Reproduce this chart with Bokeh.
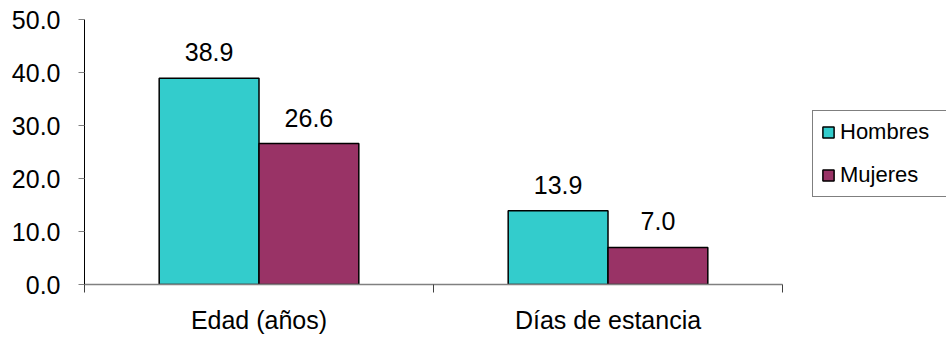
from bokeh.plotting import figure
from bokeh.models import (ColumnDataSource, Range1d, LinearAxis,
                          FixedTicker, NumeralTickFormatter, Legend, LegendItem)
from bokeh.transform import dodge
from bokeh.core.properties import value
from bokeh.embed import file_html
from bokeh.resources import INLINE

categories = ["Edad (años)", "Días de estancia"]
series_names = ["Hombres", "Mujeres"]
hombres = [38.9, 13.9]
mujeres = [26.6, 7.0]
y_ticks = [0, 10, 20, 30, 40, 50]

FONT = "Liberation Sans"
C_H = "#33CCCC"
C_M = "#993366"
BAR_W = 0.286

# layout (pixels)
W, H = 946, 337
LEFT, TOP, BOTTOM = 84, 19, 53
AXIS_W = 698                      # width of the category axis
FRAME_W = W - LEFT                # frame runs to the right edge (legend lives inside)

n = len(categories)
centers = [i + 0.5 for i in range(n)]
bounds = list(range(n + 1))
x_end = n * FRAME_W / AXIS_W

src = ColumnDataSource(dict(
    pos=centers,
    hombres=hombres,
    mujeres=mujeres,
    hl=[f"{v:.1f}" for v in hombres],
    ml=[f"{v:.1f}" for v in mujeres],
))

p = figure(x_range=Range1d(0, x_end), y_range=Range1d(0, 50), width=W, height=H,
           output_backend="svg", toolbar_location=None,
           x_axis_location=None, y_axis_location=None,
           min_border_left=LEFT, min_border_right=0, min_border_top=TOP,
           min_border_bottom=BOTTOM)
p.grid.visible = False
p.outline_line_color = None
p.background_fill_color = "white"
p.border_fill_color = "white"

r1 = p.vbar(x=dodge("pos", -BAR_W / 2), top="hombres", width=BAR_W,
            source=src, fill_color=C_H, line_color="black", line_width=1.5)
r2 = p.vbar(x=dodge("pos", BAR_W / 2), top="mujeres", width=BAR_W,
            source=src, fill_color=C_M, line_color="black", line_width=1.5)

for col, lab, off in (("hombres", "hl", -BAR_W / 2), ("mujeres", "ml", BAR_W / 2)):
    p.text(x=dodge("pos", off), y=col, text=lab, source=src,
           text_align="center", text_baseline="alphabetic", y_offset=-26,
           text_font=value(FONT), text_font_size="25px", text_color="black")

# y axis
yaxis = LinearAxis(ticker=FixedTicker(ticks=y_ticks),
                   formatter=NumeralTickFormatter(format="0.0"))
yaxis.major_label_text_font = FONT
yaxis.major_label_text_font_size = "25px"
yaxis.major_label_text_color = "black"
yaxis.major_label_standoff = 18
yaxis.major_tick_out = 6
yaxis.major_tick_in = 0
yaxis.minor_tick_line_color = None
yaxis.axis_line_color = "black"
yaxis.axis_line_width = 1
yaxis.major_tick_line_color = "#808080"
p.add_layout(yaxis, "left")

# x axis: labels at category centres, boundary ticks as minor ticks
xaxis = LinearAxis(ticker=FixedTicker(ticks=centers, minor_ticks=bounds),
                   major_label_overrides={c: lab for c, lab in zip(centers, categories)},
                   bounds=(0, n))
xaxis.axis_line_color = "#808080"
xaxis.axis_line_width = 1.5
xaxis.major_tick_line_color = None
xaxis.major_tick_out = 0
xaxis.major_tick_in = 0
xaxis.minor_tick_line_color = "#404040"
xaxis.minor_tick_line_width = 1
xaxis.minor_tick_out = 8
xaxis.minor_tick_in = 0
xaxis.major_label_standoff = 13
xaxis.major_label_text_font = FONT
xaxis.major_label_text_font_size = "25px"
xaxis.major_label_text_color = "black"
p.add_layout(xaxis, "below")

legend = Legend(items=[LegendItem(label=series_names[0], renderers=[r1]),
                       LegendItem(label=series_names[1], renderers=[r2])],
                location=(728, 87))
legend.border_line_color = "black"
legend.border_line_width = 1
legend.background_fill_color = "white"
legend.background_fill_alpha = 1
legend.padding = 8
legend.spacing = 17
legend.margin = 0
legend.glyph_width = 14
legend.glyph_height = 14
legend.label_standoff = 5
legend.label_height = 20
legend.label_width = 110
legend.label_text_font = FONT
legend.label_text_font_size = "22px"
legend.label_text_line_height = 1.0
legend.label_text_color = "black"
p.add_layout(legend, "center")

open("out.html", "w").write(file_html(p, INLINE))
